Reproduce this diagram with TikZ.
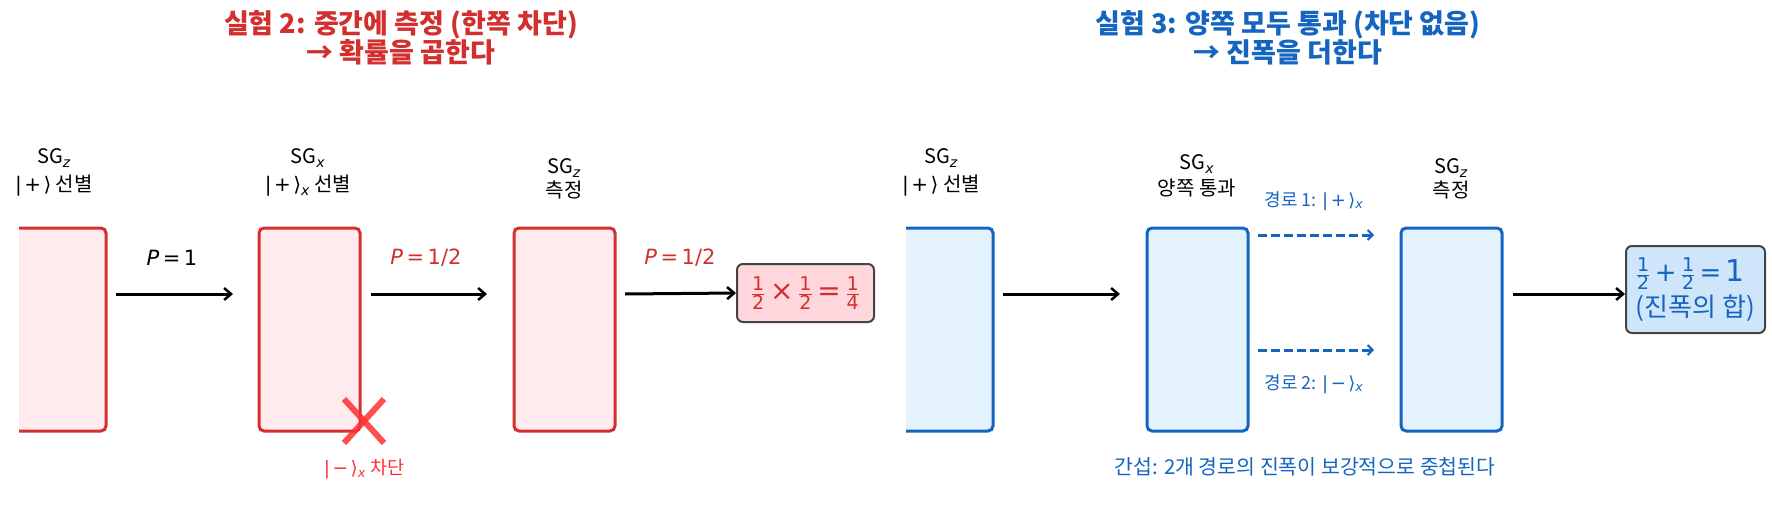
\documentclass[tikz,border=0pt]{standalone}
\usepackage{fontspec}
\setmainfont{Noto Sans CJK KR}
\newfontfamily\dv{DejaVu Sans}
\usetikzlibrary{arrows.meta}
\definecolor{rd}{HTML}{D32F2F}
\definecolor{bl}{HTML}{1565C0}
\definecolor{pinkf}{HTML}{FFEBEE}
\definecolor{bluef}{HTML}{E3F2FD}
\definecolor{resr}{HTML}{FFD6DC}
\definecolor{resb}{HTML}{CFE5FA}
\definecolor{edgeg}{HTML}{444444}
\definecolor{crossr}{HTML}{FF3030}
\newcommand{\ket}[1]{{\dv|\kern2.5pt#1\kern2.5pt⟩}}
\newcommand{\vi}[1]{{\dv\itshape #1}}
\newcommand{\fr}[2]{$\frac{\hbox{\dv\fontsize{19}{19}\selectfont #1}}{\hbox{\dv\fontsize{19}{19}\selectfont #2}}$}
\begin{document}
\begin{tikzpicture}[x=1pt,y=-1pt,
  redbox/.style={draw=rd,fill=pinkf,line width=3pt,rounded corners=5pt,minimum width=101pt,minimum height=203pt,inner sep=0pt},
  bluebox/.style={draw=bl,fill=bluef,line width=3pt,rounded corners=5pt,minimum width=101pt,minimum height=203pt,inner sep=0pt},
  lbl/.style={font=\fontsize{20}{24}\selectfont,align=center,inner sep=0pt},
  plbl/.style={font=\fontsize{21}{25}\selectfont,inner sep=0pt},
  title/.style={font=\bfseries\fontsize{27}{29}\selectfont,align=center,inner sep=0pt},
  arr/.style={line width=3pt,-{Straight Barb[length=7pt,width=12pt,line width=2.5pt]}},
  darr/.style={bl,line width=3pt,dash pattern=on 9pt off 4pt,-{Straight Barb[length=5pt,width=10pt,line width=2pt]}},
  resbox/.style={draw=edgeg,line width=2pt,rounded corners=6pt,inner sep=3pt},
]
\useasboundingbox (0,0) rectangle (1772,527);
% ---------- Left panel ----------
\node[title,rd] (t2) at (401,38) {실험 2: 중간에 측정 (한쪽 차단)\\→ 확률을 곱한다};
\begin{scope}
\clip (19,0) rectangle (700,527);
\node[redbox] (a1) at (55.5,329.5) {};
\end{scope}
\node[redbox] (a2) at (309.5,329.5) {};
\node[redbox] (a3) at (564.5,329.5) {};
\node[resbox,fill=resr,text=rd,font=\dv\fontsize{28}{30}\selectfont,minimum width=137pt,minimum height=58pt] (ra) at (805.5,293) {\fr{1}{2}\,×\,\fr{1}{2}\,=\,\fr{1}{4}};

\node[lbl] (la1) at (54,158) {SG\textsubscript{\vi{z}}};
\node[lbl] (la1b) at (54,186) {\ket{+} 선별};
\node[lbl] (la2) at (308,158) {SG\textsubscript{\vi{x}}};
\node[lbl] (la2b) at (308,186) {\ket{+}\textsubscript{\vi{x}} 선별};
\node[lbl] (la3) at (564,168) {SG\textsubscript{\vi{z}}};
\node[lbl] (la3b) at (564,190) {측정};

\coordinate (a1o) at (116,294);
\coordinate (a2i) at (233,294);
\coordinate (a2o) at (371,294);
\coordinate (a3i) at (487,294);
\coordinate (a3o) at (625,294);
\draw[arr] (a1o) -- (a2i);
\draw[arr] (a2o) -- (a3i);
\draw[arr] (a3o) -- (ra.west);
\node[plbl] (p1) at (172,258) {{\dv\itshape P}{\dv\,=\,1}};
\node[plbl,rd] (p2) at (426,258) {{\dv\itshape P}{\dv\,=\,1/2}};
\node[plbl,rd] (p3) at (680,258) {{\dv\itshape P}{\dv\,=\,1/2}};

\coordinate (xc) at (364,421);
\draw[crossr,opacity=0.85,line width=6pt] ([shift={(-20,-22)}]xc) -- ([shift={(20,22)}]xc);
\draw[crossr,opacity=0.85,line width=6pt] ([shift={(20,-22)}]xc) -- ([shift={(-20,22)}]xc);
\node[lbl,crossr,font=\fontsize{18.5}{22}\selectfont] (blk) at (364,469) {\ket{−}\textsubscript{\vi{x}} 차단};

% ---------- Right panel ----------
\node[title,bl] (t3) at (1288,38) {실험 3: 양쪽 모두 통과 (차단 없음)\\→ 진폭을 더한다};
\begin{scope}
\clip (906,0) rectangle (1600,527);
\node[bluebox] (b1) at (942.5,329.5) {};
\end{scope}
\node[bluebox] (b2) at (1197.5,329.5) {};
\node[bluebox] (b3) at (1451.5,329.5) {};
\node[resbox,fill=resb,text=bl,font=\fontsize{26}{35}\selectfont,align=left,minimum width=139pt,minimum height=87pt,inner sep=2pt] (rb) at (1695.5,289.5)
  {{\dv\fr{1}{2}\,+\,\fr{1}{2}\,=\,{\fontsize{30}{30}\selectfont 1}}\\(진폭의 합)};

\node[lbl] (lb1) at (941,158) {SG\textsubscript{\vi{z}}};
\node[lbl] (lb1b) at (941,186) {\ket{+} 선별};
\node[lbl] (lb2) at (1197,164) {SG\textsubscript{\vi{x}}};
\node[lbl] (lb2b) at (1197,188) {양쪽 통과};
\node[lbl] (lb3) at (1451,168) {SG\textsubscript{\vi{z}}};
\node[lbl] (lb3b) at (1451,190) {측정};

\coordinate (b1o) at (1003,294);
\coordinate (b2i) at (1120,294);
\coordinate (b2u) at (1258,235);
\coordinate (b3u) at (1374,235);
\coordinate (b2d) at (1258,350);
\coordinate (b3d) at (1374,350);
\coordinate (b3o) at (1513,294);
\draw[arr] (b1o) -- (b2i);
\draw[darr] (b2u) -- (b3u);
\draw[darr] (b2d) -- (b3d);
\draw[arr] (b3o) -- (rb.west |- b3o);
\node[lbl,bl,font=\fontsize{18}{22}\selectfont] (pa1) at (1314,201) {경로 1: \ket{+}\textsubscript{\vi{x}}};
\node[lbl,bl,font=\fontsize{18}{22}\selectfont] (pa2) at (1314,384) {경로 2: \ket{−}\textsubscript{\vi{x}}};
\node[lbl,bl,font=\fontsize{20.5}{24}\selectfont] (intf) at (1305,467) {간섭: 2개 경로의 진폭이 보강적으로 중첩된다};
\end{tikzpicture}
\end{document}
